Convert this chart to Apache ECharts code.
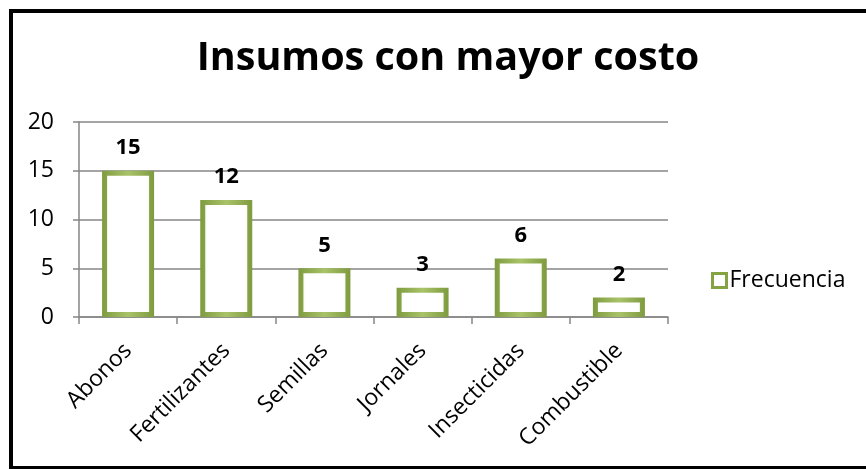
<!DOCTYPE html>
<html>
<head>
<meta charset="utf-8">
<script src="https://cdn.jsdelivr.net/npm/echarts@6/dist/echarts.min.js"></script>
<style>
  html, body { margin: 0; padding: 0; background: #fff; }
  #chart { width: 866px; height: 469px; }
</style>
</head>
<body>
<div id="chart"></div>
<script>
// datos del grafico
var categorias = ['Abonos', 'Fertilizantes', 'Semillas', 'Jornales', 'Insecticidas', 'Combustible']
var frecuencia = [15, 12, 5, 3, 6, 2]
var nombreSerie = 'Frecuencia'
var titulo = 'Insumos con mayor costo'

var fuente = '"Open Sans", sans-serif'
var gris = '#868686'

var bisel = {
  type: 'linear', x: 0, y: 0, x2: 1, y2: 0,
  colorStops: [
    { offset: 0, color: '#7f9b3f' },
    { offset: 0.5, color: '#a9c468' },
    { offset: 1, color: '#7f9b3f' }
  ]
}
var relleno = {
  type: 'linear', x: 0, y: 0, x2: 1, y2: 0,
  colorStops: [
    { offset: 0, color: '#eef4e0' },
    { offset: 0.15, color: '#ffffff' },
    { offset: 0.85, color: '#ffffff' },
    { offset: 1, color: '#eef4e0' }
  ]
}

var chart = echarts.init(document.getElementById('chart'))
chart.setOption({
  animation: false,
  textStyle: { fontFamily: fuente },
  graphic: [{
    type: 'rect',
    shape: { x: 11, y: 11, width: 900, height: 457 },
    style: { fill: 'none', stroke: '#000', lineWidth: 4 },
    silent: true
  }],
  title: {
    text: titulo,
    left: 443,
    top: 34,
    textAlign: 'center',
    textStyle: { fontFamily: fuente, fontSize: 39.5, fontWeight: 'bold', color: '#000' }
  },
  legend: {
    data: [{
      name: nombreSerie,
      icon: 'rect',
      itemStyle: { color: '#ffffff', borderColor: '#86a344', borderWidth: 3 }
    }],
    left: 706,
    top: 264,
    itemWidth: 14,
    itemHeight: 14,
    itemGap: 4,
    textStyle: { fontFamily: fuente, fontSize: 23, color: '#000', padding: [0, 0, 0, -2] }
  },
  grid: {
    left: 79,
    right: 198,
    top: 122,
    bottom: 152
  },
  xAxis: {
    type: 'category',
    data: categorias,
    axisLine: { lineStyle: { color: gris, width: 1.5 } },
    axisTick: { show: true, length: 7, lineStyle: { color: gris, width: 1.5 } },
    axisLabel: {
      interval: 0,
      rotate: 45,
      margin: 30,
      fontFamily: fuente,
      fontSize: 23,
      color: '#000'
    }
  },
  yAxis: {
    type: 'value',
    min: 0,
    max: 20,
    interval: 5,
    axisLine: { show: true, lineStyle: { color: gris, width: 1.5 } },
    axisTick: { show: true, length: 6, lineStyle: { color: gris, width: 1.5 } },
    splitLine: { lineStyle: { color: gris, width: 1.5 } },
    axisLabel: { margin: 25, fontFamily: fuente, fontSize: 23, color: '#000' }
  },
  series: [{
    name: nombreSerie,
    type: 'bar',
    data: frecuencia,
    barWidth: 52,
    itemStyle: {
      color: relleno,
      borderColor: bisel,
      borderWidth: 5
    },
    label: {
      show: true,
      position: 'top',
      distance: 12,
      fontFamily: fuente,
      fontSize: 22,
      fontWeight: 'bold',
      color: '#000'
    }
  }]
})
</script>
</body>
</html>
